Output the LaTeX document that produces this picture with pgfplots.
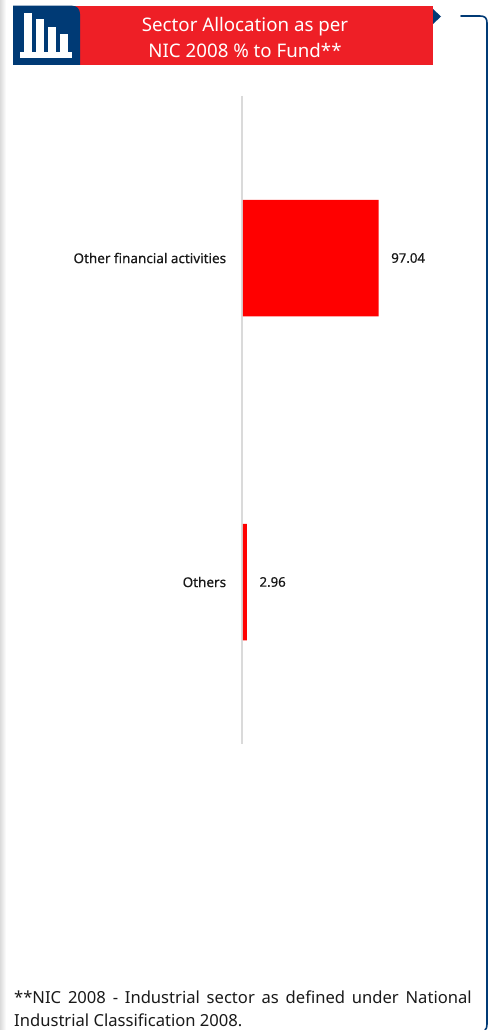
\documentclass[border=0pt]{standalone}
\usepackage{pgfplots}
\pgfplotsset{compat=1.18}
\usepackage{fontspec}
\setmainfont{Noto Sans}
\newfontfamily\med{Noto Sans}[FakeBold=0.4]
\definecolor{navy}{HTML}{003A75}
\definecolor{hdr}{HTML}{EE1F26}
\definecolor{axisgray}{HTML}{DADADA}
\definecolor{barred}{HTML}{FF0000}
\definecolor{ink}{HTML}{1A1A1A}
\begin{document}
\begin{tikzpicture}[x=1pt,y=-1pt]
\path[use as bounding box] (0,0) rectangle (492,1030);
\fill[white] (0,0) rectangle (492,1030);
\shade[left color=black!14,right color=white,draw=none] (0,0) rectangle (6,1030);
% header
\fill[hdr] (26,5.7) rectangle (433,65);
\fill[navy] (13,5.7) -- (72,5.7) .. controls (77,5.7) and (80,9) .. (80,14) -- (80,65) -- (13,65) -- cycle;
\fill[white] (20,52.5) rectangle (72,58);
\fill[white] (24,13) rectangle (32,52.5);
\fill[white] (36,19) rectangle (44,52.5);
\fill[white] (48,27) rectangle (56,52.5);
\fill[white] (60,34) rectangle (68,52.5);
\fill[navy] (433,9) -- (441,16.5) -- (433,24) -- cycle;
\draw[navy,line width=1.6pt,line cap=round] (461,16) -- (480,16) .. controls (485,16) and (487,18) .. (487,23) -- (487,1024) .. controls (487,1027) and (486.5,1029) .. (485,1030);
\node[text=white,font=\fontsize{18.7}{25.5}\selectfont,align=center,anchor=center] at (245,37.5) {Sector Allocation as per\\NIC 2008 \% to Fund**};
% chart
\draw[axisgray,line width=1.6pt] (242,96) -- (242,744);
\coordinate (A) at (242.8,744);
\begin{axis}[
  at={(A)},anchor=south west,
  scale only axis,width=224pt,height=648pt,
  xmin=0,xmax=160,ymin=-0.5,ymax=1.5,
  y dir=reverse,
  hide x axis,
  axis y line=left,
  axis line style={draw=none},
  ytick={0,1},
  yticklabels={Other financial activities,Others},
  major tick length=0pt,
  y tick label style={font=\med\fontsize{13.5}{15}\selectfont,text=ink,inner sep=0pt,xshift=-16.5pt},
  xbar,
  bar width=116.5pt,
  bar shift=0pt,
  clip=false,
  nodes near coords,
  point meta=explicit symbolic,
  every node near coord/.append style={font=\med\fontsize{13.2}{15}\selectfont,text=ink,inner sep=0pt,anchor=west,xshift=12.4pt},
]
\addplot[fill=barred,draw=none] coordinates {(97.04,0) [97.04] (2.96,1) [2.96]};
\end{axis}
% footnote
\node[anchor=north west,inner sep=0pt,text width=457.5pt,text=ink,font=\fontsize{16.6}{23}\selectfont,align=justify] at (14,985.5) {\vphantom{}\rule{0pt}{0pt}\vspace{0pt}};
\node[anchor=north west,inner sep=0pt,text width=457.5pt,text=ink,font=\fontsize{16.6}{23}\selectfont,align=justify] at (14,991) {**NIC 2008 - Industrial sector as defined under National \mbox{Industrial} Classification 2008.};
\end{tikzpicture}
\end{document}
